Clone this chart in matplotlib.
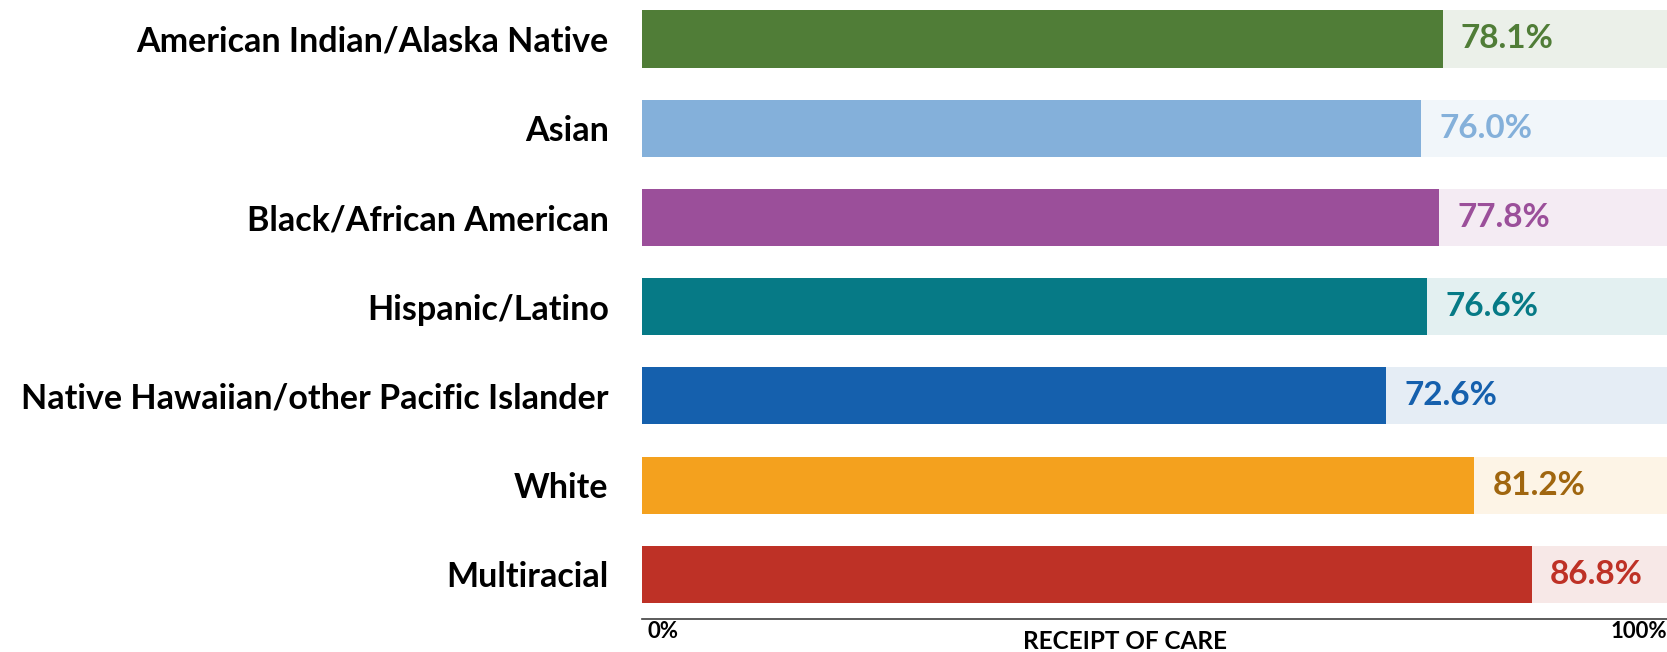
import numpy as np
import matplotlib.pyplot as plt

groups = ["American Indian/Alaska Native", "Asian", "Black/African American",
          "Hispanic/Latino", "Native Hawaiian/other Pacific Islander", "White",
          "Multiracial"]
values = [78.1, 76.0, 77.8, 76.6, 72.6, 81.2, 86.8]
bar_colors = ["#507D37", "#84B0DA", "#9B4F9A", "#067A86", "#1560AD", "#F4A11E", "#BE3126"]
label_colors = ["#507D37", "#84B0DA", "#9B4F9A", "#067A86", "#1560AD", "#A0660F", "#BE3126"]

plt.rcParams['font.family'] = ['Lato', 'DejaVu Sans']
plt.rcParams['font.weight'] = 'bold'

fig = plt.figure(figsize=(16.67, 6.52), dpi=100)
ax = fig.add_axes([642 / 1667, 1 - 619 / 652, 1 - 642 / 1667, 619 / 652])

y = np.arange(len(groups))
ax.barh(y, [100] * len(groups), height=0.64, color=bar_colors, alpha=0.11, linewidth=0)
ax.barh(y, values, height=0.64, color=bar_colors, linewidth=0)

for yi, v, c in zip(y, values, label_colors):
    ax.text(v + 1.8, yi, f"{v:.1f}%", color=c, fontsize=24, fontweight='bold',
            va='center', ha='left')

ax.set_xlim(0, 100)
ax.set_ylim(6.5, -0.437)
ax.set_yticks(y)
ax.set_yticklabels(groups, fontsize=24.5, fontweight='bold')
ax.tick_params(axis='y', length=0, pad=24)
ax.set_xticks([])

for s in ['top', 'right', 'left']:
    ax.spines[s].set_visible(False)
ax.spines['bottom'].set_color('#404040')
ax.spines['bottom'].set_linewidth(1.2)

ax.text(0.005, -0.004, "0%", transform=ax.transAxes, fontsize=16, fontweight='bold',
        ha='left', va='top')
ax.text(1.0, -0.004, "100%", transform=ax.transAxes, fontsize=16, fontweight='bold',
        ha='right', va='top')
fig.text(1125 / 1667, 3 / 652, "RECEIPT OF CARE", fontsize=17.5,
         fontweight='bold', ha='center', va='baseline')

fig.savefig("out.png", dpi=100)
